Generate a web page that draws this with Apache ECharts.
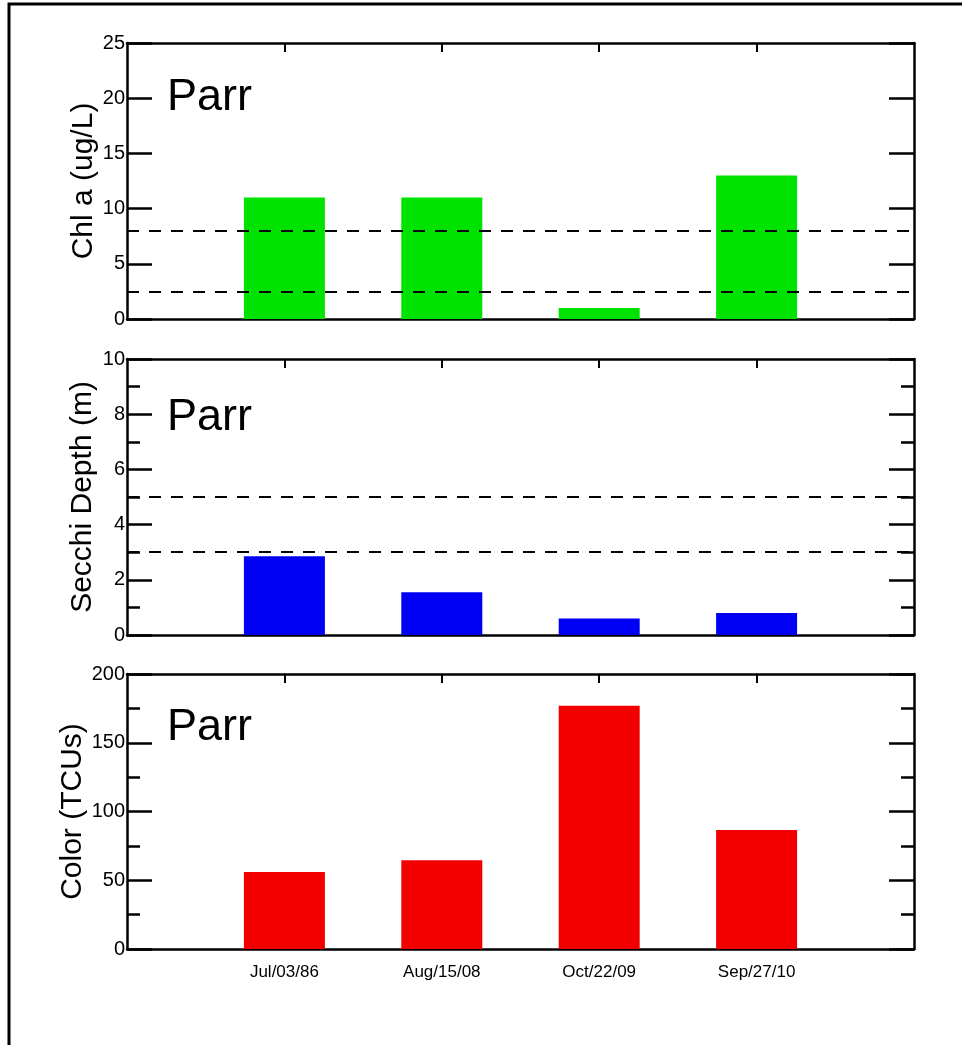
<!DOCTYPE html>
<html>
<head>
<meta charset="utf-8">
<script src="https://cdn.jsdelivr.net/npm/echarts@6/dist/echarts.min.js"></script>
<style>html,body{margin:0;padding:0;background:#fff}#c{width:962px;height:1045px}</style>
</head>
<body>
<div id="c"></div>
<script>
var categories = ['Jul/03/86', 'Aug/15/08', 'Oct/22/09', 'Sep/27/10'];
var chlValues = [11, 11, 1, 13];
var secchiValues = [2.85, 1.55, 0.6, 0.8];
var colorValues = [56, 64.5, 177, 86.5];
var chlRefLines = [8, 2.5];
var secchiRefLines = [5, 3];
var siteName = 'Parr';

var axisCats = [''].concat(categories, ['']);
function pad(v) { return ['-'].concat(v, ['-']); }

var LW = 2.5;
var numFont = "'Liberation Sans Narrow','Liberation Sans',Arial,sans-serif";
var mainFont = "'Liberation Sans',Arial,sans-serif";

var grids = [
  {left: 127, right: 48, top: 43, height: 276},
  {left: 127, right: 48, top: 359, height: 276},
  {left: 127, right: 48, top: 674, height: 275}
];
var titleTops = [70, 390, 700];

var yCfg = [
  {min: 0, max: 25, interval: 5, name: 'Chl a (ug/L)', gap: 28, minor: false},
  {min: 0, max: 10, interval: 2, name: 'Secchi Depth (m)', gap: 29, minor: true},
  {min: 0, max: 200, interval: 50, name: 'Color (TCUs)', gap: 39, minor: true}
];

var xAxes = [], yAxes = [], series = [], titles = [];
grids.forEach(function (g, i) {
  xAxes.push({
    type: 'category', gridIndex: i, data: axisCats, boundaryGap: false, position: 'bottom',
    axisLine: {show: true, onZero: false, lineStyle: {color: '#000', width: LW}},
    axisTick: {show: false},
    axisLabel: {show: i === 2, interval: 0, margin: 15, color: '#000', fontSize: 17, fontFamily: numFont},
    splitLine: {show: false}
  });
  xAxes.push({
    type: 'category', gridIndex: i, data: axisCats, boundaryGap: false, position: 'top',
    axisLine: {show: true, onZero: false, lineStyle: {color: '#000', width: LW}},
    axisTick: {show: true, inside: true, length: 9, lineStyle: {color: '#000', width: 2},
      interval: function (idx) { return idx >= 1 && idx <= 4; }},
    axisLabel: {show: false},
    splitLine: {show: false}
  });
  var c = yCfg[i];
  var common = {
    type: 'value', gridIndex: i, min: c.min, max: c.max, interval: c.interval,
    axisLine: {show: true, onZero: false, lineStyle: {color: '#000', width: LW}},
    axisTick: {show: true, inside: true, length: 25, lineStyle: {color: '#000', width: 2.5}},
    minorTick: {show: c.minor, splitNumber: 2, length: 13, lineStyle: {color: '#000', width: 2.5}},
    splitLine: {show: false},
    minorSplitLine: {show: false}
  };
  yAxes.push(Object.assign({}, common, {
    position: 'left',
    name: c.name, nameLocation: 'middle', nameGap: c.gap, nameRotate: 90,
    nameMoveOverlap: false,
    nameTextStyle: {color: '#000', fontSize: 30, fontFamily: mainFont},
    axisLabel: {show: true, margin: 2, color: '#000', fontSize: 20, fontFamily: numFont}
  }));
  yAxes.push(Object.assign({}, common, {
    position: 'right',
    axisLabel: {show: false}
  }));
  titles.push({
    text: siteName, left: 162, top: titleTops[i],
    textStyle: {fontSize: 45, fontWeight: 'normal', color: '#000', fontFamily: mainFont}
  });
});

var colors = ['#00e300', '#0000f5', '#f20000'];
var vals = [chlValues, secchiValues, colorValues];
var refs = [chlRefLines, secchiRefLines, null];
vals.forEach(function (v, i) {
  var s = {
    type: 'bar', xAxisIndex: i * 2, yAxisIndex: i * 2, data: pad(v), barWidth: 81,
    itemStyle: {color: colors[i]}, silent: true
  };
  if (refs[i]) {
    s.markLine = {
      silent: true, symbol: 'none', label: {show: false},
      lineStyle: {color: '#000', type: [12, 10], width: 2},
      data: refs[i].map(function (r) { return {yAxis: r}; })
    };
  }
  series.push(s);
});

var chart = echarts.init(document.getElementById('c'), null, {renderer: 'canvas'});
chart.setOption({
  animation: false,
  backgroundColor: '#fff',
  title: titles,
  grid: grids,
  xAxis: xAxes,
  yAxis: yAxes,
  series: series,
  graphic: [{
    type: 'rect', shape: {x: 9, y: 4, width: 1000, height: 1100},
    style: {fill: 'none', stroke: '#000', lineWidth: 3}, silent: true
  }]
});
</script>
</body>
</html>
